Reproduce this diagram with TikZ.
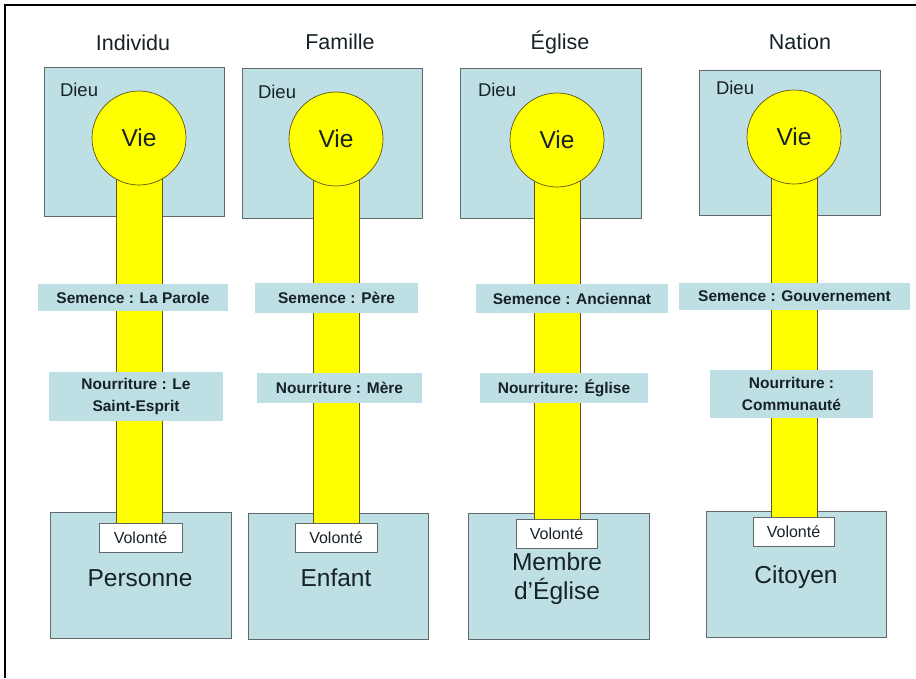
\documentclass[tikz,border=0pt]{standalone}
\usepackage{fontspec}
\setmainfont{Liberation Sans}
\begin{document}
\definecolor{paleblue}{RGB}{190,224,229}
\definecolor{boxline}{RGB}{95,105,105}
\definecolor{lifeyellow}{RGB}{255,255,0}
\definecolor{lifeline}{RGB}{95,85,20}
\definecolor{inktext}{RGB}{22,34,40}
\begin{tikzpicture}[x=1pt,y=-1pt,
  every node/.style={inner sep=0pt,outer sep=0pt,text=inktext},
  realm/.style={draw=boxline,line width=0.9pt,fill=paleblue,rectangle},
  lifecircle/.style={circle,draw=lifeline,line width=0.7pt,fill=lifeyellow,minimum size=94pt,
    font=\fontsize{24.5}{26}\selectfont},
  tag/.style={fill=paleblue,rectangle,align=center,
    font=\fontsize{15.5}{22}\selectfont\bfseries},
  willbox/.style={draw=boxline,line width=0.8pt,fill=white,rectangle,
    font=\fontsize{16}{18}\selectfont},
  heading/.style={font=\fontsize{21.5}{23}\selectfont},
  godlabel/.style={anchor=west,font=\fontsize{18.5}{20}\selectfont},
  beinglabel/.style={align=center,font=\fontsize{24.5}{29}\selectfont}]

\useasboundingbox (0,0) rectangle (916,678);
\fill[white] (0,0) rectangle (916,678);
\draw[line width=2pt] (5,678) -- (5,5) -- (916,5);

% ---------- Individu ----------
\node[heading] (t1) at (133,43) {Individu};
\node[realm,minimum width=180pt,minimum height=149pt] (d1) at (134,141.5) {};
\node[godlabel] (g1) at (60,90) {Dieu};
\node[realm,minimum width=181pt,minimum height=126pt] (b1) at (140.5,575) {};
\fill[lifeyellow] (116,140) rectangle (162,530);
\draw[lifeline,line width=0.7pt] (116,140) -- (116,530) (162,140) -- (162,530);
\node[lifecircle] (v1) at (139,138) {Vie};
\node[tag,minimum width=190pt,minimum height=27pt] (s1) at (133,297.5) {Semence : La Parole};
\node[tag,minimum width=174pt,minimum height=49pt] (n1) at (136,396.5) {Nourriture : Le\\Saint-Esprit};
\node[willbox,minimum width=83pt,minimum height=29pt] (w1) at (140.5,537.5) {Volonté};
\node[beinglabel] (p1) at (140,578) {Personne};

% ---------- Famille ----------
\node[heading] (t2) at (340,42) {Famille};
\node[realm,minimum width=180pt,minimum height=150pt] (d2) at (332,143) {};
\node[godlabel] (g2) at (258,92) {Dieu};
\node[realm,minimum width=180pt,minimum height=126pt] (b2) at (338,576) {};
\fill[lifeyellow] (313,140) rectangle (359,530);
\draw[lifeline,line width=0.7pt] (313,140) -- (313,530) (359,140) -- (359,530);
\node[lifecircle] (v2) at (336,139) {Vie};
\node[tag,minimum width=163pt,minimum height=30pt] (s2) at (336.5,298) {Semence : Père};
\node[tag,minimum width=165pt,minimum height=30pt] (n2) at (339.5,388) {Nourriture : Mère};
\node[willbox,minimum width=82pt,minimum height=29pt] (w2) at (336,537.5) {Volonté};
\node[beinglabel] (p2) at (336,578) {Enfant};

% ---------- Église ----------
\node[heading] (t3) at (560,42) {Église};
\node[realm,minimum width=181pt,minimum height=150pt] (d3) at (550.5,143) {};
\node[godlabel] (g3) at (478,90) {Dieu};
\node[realm,minimum width=181pt,minimum height=126pt] (b3) at (558.5,576) {};
\fill[lifeyellow] (534,140) rectangle (580,530);
\draw[lifeline,line width=0.7pt] (534,140) -- (534,530) (580,140) -- (580,530);
\node[lifecircle] (v3) at (557,140) {Vie};
\node[tag,minimum width=192pt,minimum height=29pt] (s3) at (572,298.5) {Semence : Anciennat};
\node[tag,minimum width=168pt,minimum height=30pt] (n3) at (564,388) {Nourriture: Église};
\node[willbox,minimum width=81pt,minimum height=29pt] (w3) at (556.5,533.5) {Volonté};
\node[beinglabel] (p3) at (557,579) {Membre\\d'Église};

% ---------- Nation ----------
\node[heading] (t4) at (800,42) {Nation};
\node[realm,minimum width=181pt,minimum height=145pt] (d4) at (789.5,142.5) {};
\node[godlabel] (g4) at (716,88) {Dieu};
\node[realm,minimum width=180pt,minimum height=126pt] (b4) at (796,574) {};
\fill[lifeyellow] (771,140) rectangle (817,525);
\draw[lifeline,line width=0.7pt] (771,140) -- (771,525) (817,140) -- (817,525);
\node[lifecircle] (v4) at (794,137) {Vie};
\node[tag,minimum width=231pt,minimum height=27pt] (s4) at (794.5,296.5) {Semence : Gouvernement};
\node[tag,minimum width=163pt,minimum height=48pt] (n4) at (791.5,394) {Nourriture :\\Communauté};
\node[willbox,minimum width=81pt,minimum height=29pt] (w4) at (793.5,531.5) {Volonté};
\node[beinglabel] (p4) at (796,577) {Citoyen};
\end{tikzpicture}
\end{document}
